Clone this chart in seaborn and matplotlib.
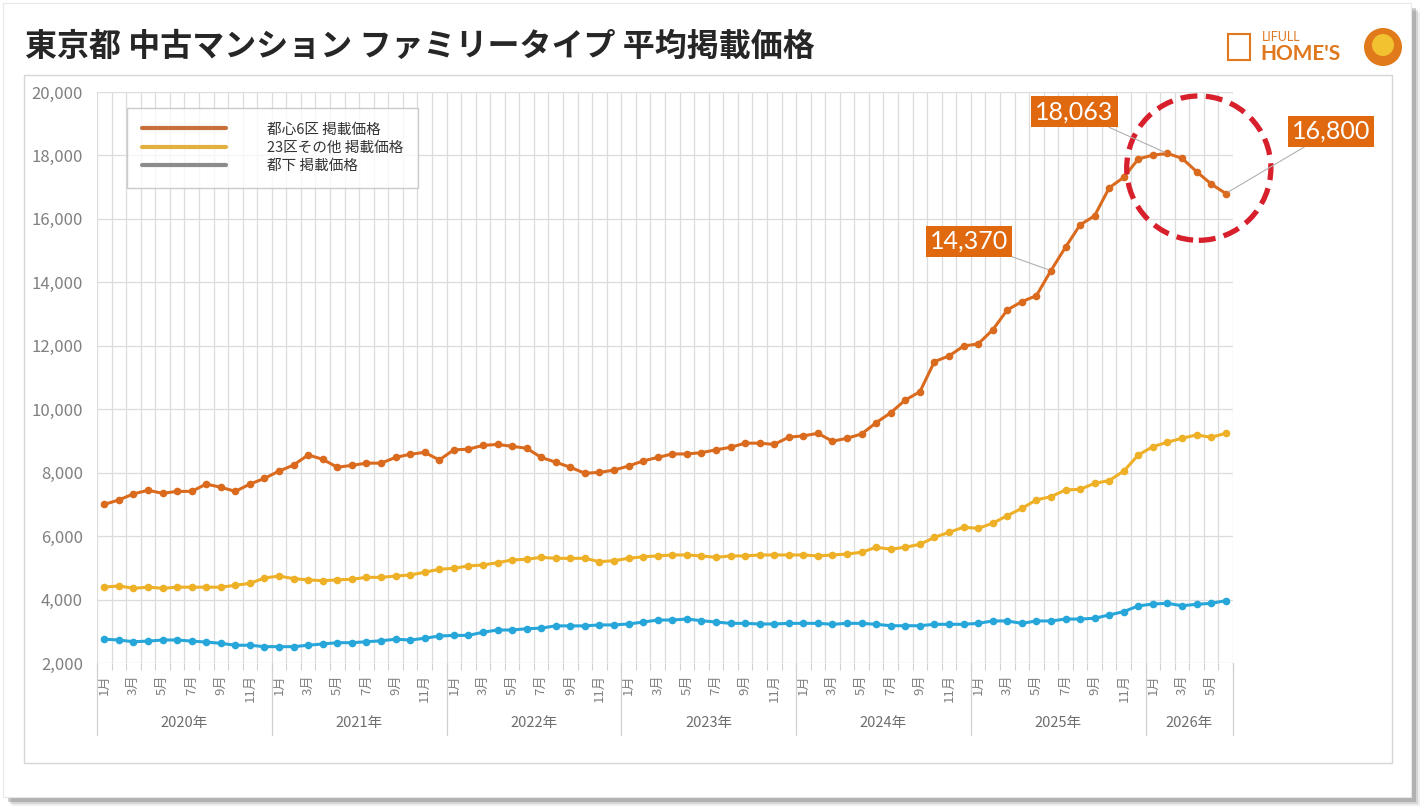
import numpy as np
import pandas as pd
import seaborn as sns
import matplotlib.pyplot as plt
from matplotlib.lines import Line2D
from matplotlib.patches import Ellipse, Rectangle, Circle

# ---- data (万円), monthly 2020/1 - 2026/6 ----
years = [2020, 2021, 2022, 2023, 2024, 2025, 2026]
months_per_year = [12, 12, 12, 12, 12, 12, 6]

toshin6 = [7000, 7140, 7330, 7445, 7350, 7410, 7410, 7640, 7540, 7410, 7640, 7820,
           8050, 8240, 8560, 8420, 8170, 8230, 8300, 8300, 8480, 8580, 8640, 8400,
           8720, 8740, 8860, 8890, 8830, 8770, 8480, 8330, 8170, 7980, 8010, 8080,
           8210, 8370, 8480, 8590, 8590, 8630, 8720, 8800, 8930, 8930, 8890, 9120,
           9160, 9240, 8990, 9085, 9220, 9575, 9890, 10290, 10550, 11500, 11680, 11990,
           12060, 12500, 13130, 13390, 13580, 14370, 15110, 15810, 16100, 16980, 17310, 17890,
           18010, 18063, 17910, 17490, 17100, 16800]
ku23_other = [4390, 4430, 4355, 4390, 4355, 4390, 4390, 4390, 4390, 4450, 4510, 4680,
              4740, 4660, 4620, 4595, 4620, 4640, 4700, 4700, 4740, 4775, 4860, 4955,
              4985, 5060, 5090, 5160, 5250, 5270, 5330, 5300, 5300, 5300, 5195, 5225,
              5300, 5350, 5375, 5405, 5405, 5375, 5330, 5375, 5375, 5405, 5405, 5405,
              5405, 5375, 5405, 5435, 5490, 5650, 5585, 5650, 5740, 5960, 6120, 6280,
              6245, 6405, 6645, 6875, 7140, 7245, 7455, 7475, 7665, 7750, 8050, 8560,
              8820, 8960, 9085, 9190, 9115, 9240]
tokai = [2750, 2725, 2670, 2690, 2725, 2725, 2690, 2660, 2620, 2560, 2560, 2515,
         2515, 2515, 2560, 2600, 2640, 2640, 2670, 2700, 2750, 2725, 2780, 2850,
         2870, 2870, 2970, 3040, 3040, 3080, 3100, 3170, 3170, 3170, 3200, 3200,
         3230, 3290, 3355, 3355, 3385, 3335, 3290, 3250, 3250, 3230, 3230, 3250,
         3250, 3250, 3220, 3250, 3250, 3220, 3175, 3175, 3175, 3220, 3220, 3220,
         3250, 3325, 3325, 3250, 3325, 3325, 3385, 3385, 3410, 3515, 3620, 3800,
         3860, 3880, 3805, 3850, 3880, 3965]

series_names = ['都心6区 掲載価格', '23区その他 掲載価格', '都下 掲載価格']
line_colors = ['#DA6B1E', '#EEB027', '#27A6D9']
legend_colors = ['#C9703A', '#E2B03F', '#8C8C8C']
callouts = [(65, '14,370', (-59, 21)), (73, '18,063', (-67, 30)), (77, '16,800', (76, 45))]

month_labels = []
for y, n in zip(years, months_per_year):
    for m in range(1, n + 1):
        month_labels.append(f'{m}月')
n_pts = len(month_labels)

df = pd.DataFrame({'idx': np.arange(n_pts), 'a': toshin6, 'b': ku23_other, 'c': tokai})

sns.set_theme(style='white')
plt.rcParams['font.family'] = ['Noto Sans CJK JP', 'DejaVu Sans']

W, H = 1425, 808
fig = plt.figure(figsize=(W / 100, H / 100), dpi=100)
fig.patch.set_facecolor('white')

# card with shadow + inner frame
for off, a in [(9, 0.10), (7, 0.18), (5, 0.30)]:
    fig.patches.append(Rectangle(((3 + off) / W, 1 - (797 + off) / H), 1408 / W, 794 / H,
                                 transform=fig.transFigure, fc='#606060', ec='none',
                                 alpha=a, zorder=-3))
fig.patches.append(Rectangle((3 / W, 1 - 797 / H), 1408 / W, 794 / H, transform=fig.transFigure,
                             fc='white', ec='#E8E8E8', lw=0.8, zorder=-2))
fig.patches.append(Rectangle((24 / W, 1 - 763 / H), 1368 / W, 688 / H, transform=fig.transFigure,
                             fc='none', ec='#D6D6D6', lw=1.0, zorder=-1))

ax = fig.add_axes([97 / W, 1 - 663 / H, 1136 / W, 571 / H])
ax.set_facecolor('none')

for col, c in zip(['a', 'b', 'c'], line_colors):
    sns.lineplot(data=df, x='idx', y=col, ax=ax, color=c, lw=2.2, marker='o',
                 markersize=5.5, markeredgewidth=0, zorder=3)

ax.set_xlim(-0.5, n_pts - 0.5)
ax.set_ylim(2000, 20000)
ax.set_yticks(range(2000, 20001, 2000))
ax.set_yticklabels([f'{v:,}' for v in range(2000, 20001, 2000)], fontsize=12, color='#808080')
ax.set_xticks(np.arange(0, n_pts, 2))
ax.set_xticklabels(month_labels[::2], rotation=90, fontsize=9.5, color='#808080')
ax.set_xticks(np.arange(-0.5, n_pts, 1), minor=True)
ax.tick_params(axis='x', which='major', length=0, pad=8)
ax.tick_params(axis='x', which='minor', length=5, color='#D0D0D0', width=0.8, bottom=True)
ax.tick_params(axis='y', length=0, pad=10)
ax.grid(axis='y', color='#DCDCDC', lw=0.9)
ax.grid(axis='x', which='minor', color='#DCDCDC', lw=0.9)
ax.grid(axis='x', which='major', visible=False)
for s in ax.spines.values():
    s.set_visible(False)
ax.set_xlabel('')
ax.set_ylabel('')

# year separators and year labels
start = -0.5
for y, n in zip(years, months_per_year):
    ax.plot([start, start], [0, -0.126], transform=ax.get_xaxis_transform(),
            color='#D0D0D0', lw=0.9, clip_on=False)
    ax.text(start + n / 2, -0.105, f'{y}年', transform=ax.get_xaxis_transform(),
            ha='center', va='center', fontsize=10.5, color='#6E6E6E')
    start += n
ax.plot([start, start], [0, -0.126], transform=ax.get_xaxis_transform(),
        color='#D0D0D0', lw=0.9, clip_on=False)

# legend
handles = [Line2D([0], [0], color=c, lw=3) for c in legend_colors]
leg = ax.legend(handles, series_names, loc='upper left', bbox_to_anchor=(0.0264, 0.972),
                prop={'family': 'Noto Sans CJK JP', 'size': 10.5},
                frameon=True, fancybox=False, edgecolor='#BFBFBF',
                handlelength=5.8, handletextpad=2.8, borderpad=1.0, labelspacing=0.3,
                borderaxespad=0)
leg.get_frame().set_linewidth(1.0)
for t in leg.get_texts():
    t.set_color('#333333')

# callouts
for i, txt, off in callouts:
    ax.annotate(txt, xy=(i, toshin6[i]), xytext=off, textcoords='offset points',
                ha='center', va='center', fontsize=18, color='white', family='Lato',
                bbox=dict(boxstyle='square,pad=0.16', fc='#E0680F', ec='none'),
                arrowprops=dict(arrowstyle='-', color='#B0B0B0', lw=0.8, shrinkA=0, shrinkB=2),
                annotation_clip=False, zorder=5)

# red dashed circle around the recent decline
ax.add_patch(Ellipse((n_pts - 1 - 1.85, 17600), width=9.9, height=4550, fill=False,
                     ec='#D7202B', lw=3.8, ls=(0, (3.2, 1.6)), zorder=4, clip_on=False))

# title
fig.text(25 / W, 1 - 47 / H, '東京都 中古マンション ファミリータイプ 平均掲載価格',
         fontsize=23, fontweight='bold', color='#262626', ha='left', va='center')

# logo
fig.text(1262 / W, 1 - 37 / H, 'LIFULL', fontsize=9, color='#E0781E', ha='left', va='center',
         family='Lato')
fig.text(1260 / W, 1 - 54 / H, "HOME'S", fontsize=15, fontweight='bold', color='#E0781E',
         ha='left', va='center', family='Lato')
fig.patches.append(Rectangle((1228 / W, 1 - 60 / H), 22 / W, 26 / H, transform=fig.transFigure,
                             fc='none', ec='#E0781E', lw=1.5))
fig.patches.append(Circle((13.83, (H - 47) / 100), 0.19, transform=fig.dpi_scale_trans,
                          fc='#E07A1A', ec='none'))
fig.patches.append(Circle((13.83, (H - 45) / 100), 0.11, transform=fig.dpi_scale_trans,
                          fc='#F2C230', ec='none'))

fig.savefig('out.png', dpi=100)
